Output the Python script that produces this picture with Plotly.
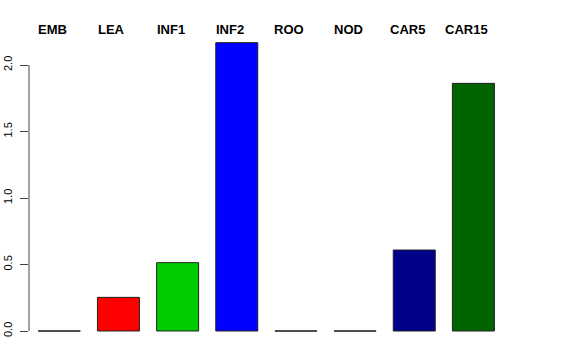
import plotly.graph_objects as go

categories = ["EMB", "LEA", "INF1", "INF2", "ROO", "NOD", "CAR5", "CAR15"]
values = [0.0, 0.253, 0.514, 2.168, 0.0, 0.0, 0.609, 1.862]
colors = ["#000000", "#FF0000", "#00CD00", "#0000FF", "#000000", "#000000", "#00008B", "#006400"]
y_ticks = [0.0, 0.5, 1.0, 1.5, 2.0]
y_tick_labels = ["0.0", "0.5", "1.0", "1.5", "2.0"]

bar_width = 0.71
xs = list(range(len(categories)))

fig = go.Figure()
fig.add_trace(go.Bar(
    x=xs, y=values, width=bar_width,
    marker=dict(color=colors, line=dict(color="#222222", width=1)),
    showlegend=False, hoverinfo="skip",
))

# zero-height bars appear as flat lines in the original
for i, v in enumerate(values):
    if v == 0:
        fig.add_trace(go.Scatter(
            x=[i - bar_width / 2, i + bar_width / 2], y=[v, v], mode="lines",
            line=dict(color="#444444", width=1.2), showlegend=False,
            hoverinfo="skip", cliponaxis=False,
        ))

for i, c in enumerate(categories):
    fig.add_annotation(
        x=i, y=1, xref="x", yref="paper", text=f"<b>{c}</b>",
        showarrow=False, xshift=-7, yanchor="bottom", yshift=1,
        font=dict(family="Liberation Sans, Arial, sans-serif", size=13, color="black"),
    )

# y axis line spanning only the tick range, as in R
fig.add_shape(type="line", xref="paper", yref="y", x0=0, x1=0,
              y0=y_ticks[0], y1=y_ticks[-1], line=dict(color="#444444", width=1))

fig.update_layout(
    width=576, height=360,
    margin=dict(l=29, r=73, t=40, b=25, autoexpand=False),
    plot_bgcolor="white", paper_bgcolor="white",
    xaxis=dict(range=[-0.512, 7.5], showticklabels=False, showgrid=False,
               zeroline=False, showline=False, ticks="", automargin=False),
    yaxis=dict(range=[-0.030, 2.188], tickvals=y_ticks, ticktext=y_tick_labels,
               tickangle=-90, ticks="outside", ticklen=8, tickcolor="#444444",
               showgrid=False, zeroline=False, showline=False,
               ticklabelstandoff=4, automargin=False,
               tickfont=dict(family="Liberation Sans, Arial, sans-serif", size=11, color="black")),
    font=dict(family="Liberation Sans, Arial, sans-serif"),
)

fig.write_html("out.html",
               config={"displayModeBar": False, "staticPlot": True},
               post_script="document.body.style.margin='0';document.body.style.overflow='hidden';")
